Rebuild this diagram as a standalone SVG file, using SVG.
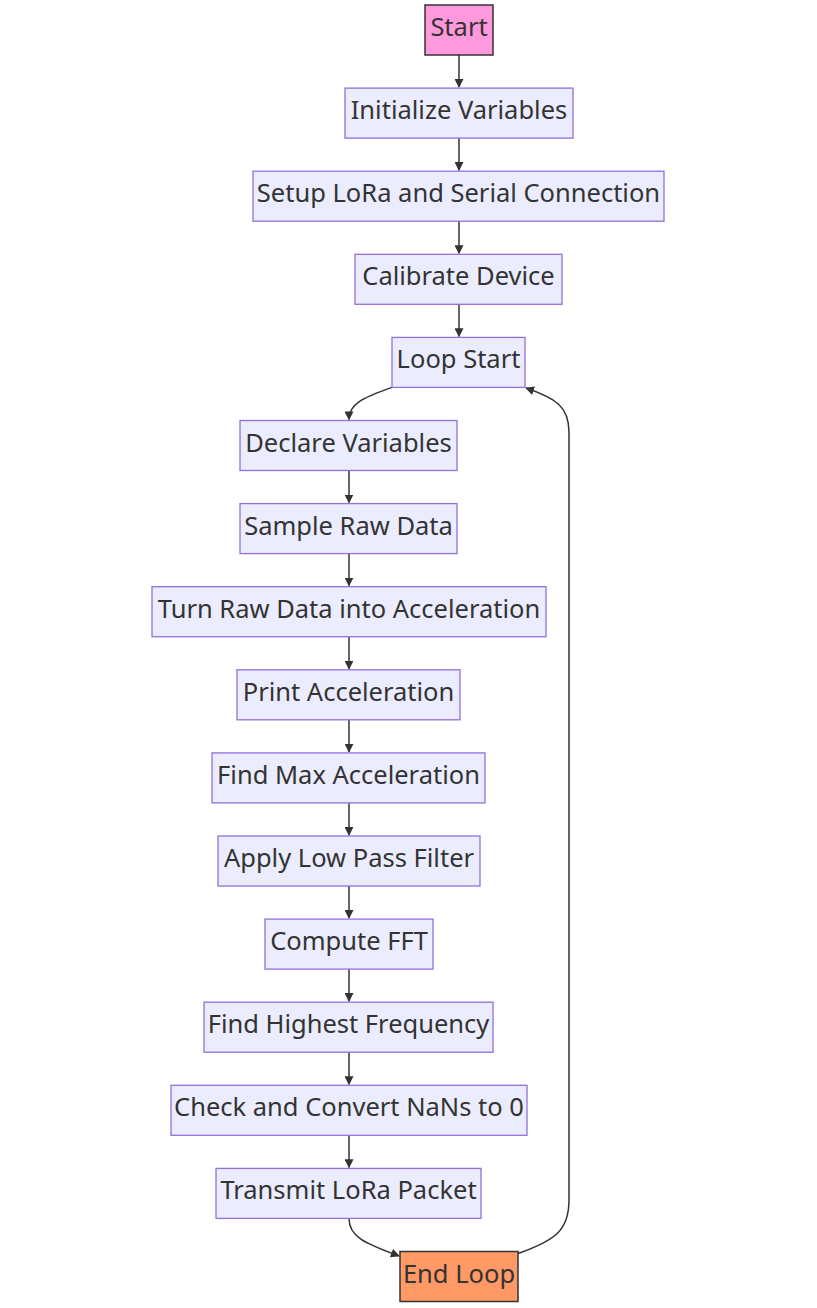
<svg xmlns="http://www.w3.org/2000/svg" width="817" height="1308" viewBox="0 0 817 1308">
<style>
.bg{fill:#ffffff}
.n rect{fill:#ECECFF;stroke:#9370DB;stroke-width:1.3}
.n text{font-family:"Noto Sans","DejaVu Sans",sans-serif;font-size:25.5px;fill:#333333;text-anchor:middle}
#start rect{fill:#FF99DD;stroke:#333333;stroke-width:1.5}
#endloop rect{fill:#FF9966;stroke:#333333;stroke-width:1.5}
.e path{fill:none;stroke:#333333;stroke-width:1.5;marker-end:url(#arr)}
</style>
<defs>
<marker id="arr" viewBox="0 0 10 10" refX="9" refY="5" markerWidth="6" markerHeight="6" orient="auto" markerUnits="strokeWidth">
<path d="M0,0 L10,5 L0,10 z" fill="#333333"/>
</marker>
</defs>
<rect class="bg" x="0" y="0" width="817" height="1308"/>
<g id="edges" class="e">
<path d="M459,55 L459,87"/>
<path d="M459,138.1 L459,170.2"/>
<path d="M459,221.2 L459,253.3"/>
<path d="M459,304.3 L459,336.4"/>
<path d="M392,387.4 C362,398 349,404 349,419.5"/>
<path d="M349,470.5 L349,502.6"/>
<path d="M349,553.6 L349,585.7"/>
<path d="M349,636.7 L349,668.8"/>
<path d="M349,719.8 L349,751.9"/>
<path d="M349,802.9 L349,835"/>
<path d="M349,886 L349,918.1"/>
<path d="M349,969.1 L349,1001.2"/>
<path d="M349,1052.2 L349,1084.3"/>
<path d="M349,1135.3 L349,1167.4"/>
<path d="M349,1218.4 C349,1238 368,1244 399,1256"/>
<path d="M518,1253.5 C556,1240 569,1230 569,1200 L569,432 C569,406 555,398 526,388"/>
</g>
<g id="start" class="n"><rect x="425" y="5" width="68" height="50"/><text x="459" y="36">Start</text></g>
<g id="init" class="n"><rect x="345" y="88.1" width="228" height="50"/><text x="459" y="119.1">Initialize Variables</text></g>
<g id="setup" class="n"><rect x="253" y="171.2" width="411" height="50"/><text x="458.5" y="202.2">Setup LoRa and Serial Connection</text></g>
<g id="calib" class="n"><rect x="355" y="254.3" width="207" height="50"/><text x="458.5" y="285.3">Calibrate Device</text></g>
<g id="loopstart" class="n"><rect x="392" y="337.4" width="133" height="50"/><text x="458.5" y="368.4">Loop Start</text></g>
<g id="declare" class="n"><rect x="240" y="420.5" width="217" height="50"/><text x="348.5" y="451.5">Declare Variables</text></g>
<g id="sample" class="n"><rect x="240" y="503.6" width="217" height="50"/><text x="348.5" y="534.6">Sample Raw Data</text></g>
<g id="turn" class="n"><rect x="152" y="586.7" width="394" height="50"/><text x="349" y="617.7">Turn Raw Data into Acceleration</text></g>
<g id="print" class="n"><rect x="237" y="669.8" width="223" height="50"/><text x="348.5" y="700.8">Print Acceleration</text></g>
<g id="findmax" class="n"><rect x="212" y="752.9" width="273" height="50"/><text x="348.5" y="783.9">Find Max Acceleration</text></g>
<g id="lowpass" class="n"><rect x="218" y="836" width="262" height="50"/><text x="349" y="867">Apply Low Pass Filter</text></g>
<g id="fft" class="n"><rect x="265" y="919.1" width="168" height="50"/><text x="349" y="950.1">Compute FFT</text></g>
<g id="highest" class="n"><rect x="204" y="1002.2" width="289" height="50"/><text x="348.5" y="1033.2">Find Highest Frequency</text></g>
<g id="nans" class="n"><rect x="171" y="1085.3" width="356" height="50"/><text x="349" y="1116.3">Check and Convert NaNs to 0</text></g>
<g id="transmit" class="n"><rect x="216" y="1168.4" width="265" height="50"/><text x="348.5" y="1199.4">Transmit LoRa Packet</text></g>
<g id="endloop" class="n"><rect x="400" y="1251.5" width="118" height="50"/><text x="459" y="1282.5">End Loop</text></g>
</svg>
